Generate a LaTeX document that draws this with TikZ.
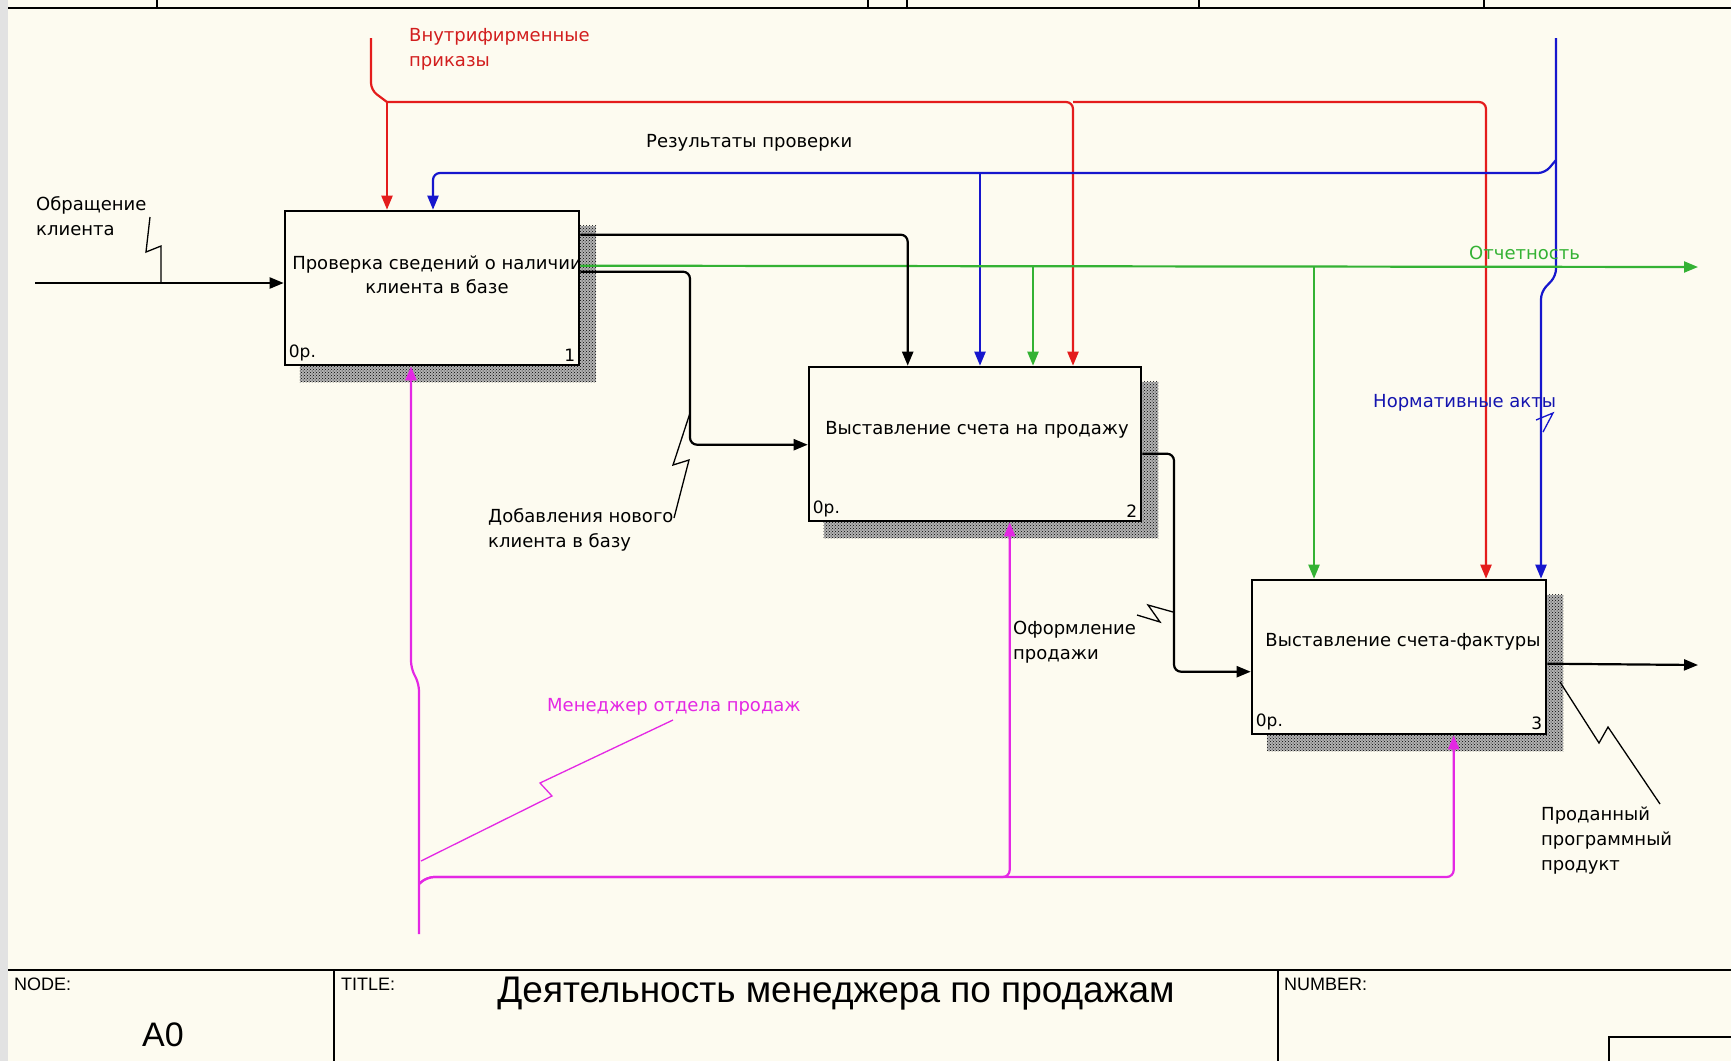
\documentclass[tikz,border=0pt]{standalone}
\usepackage{fontspec}
\newfontfamily\diagfont{DejaVu Sans}
\newfontfamily\framefont{Liberation Sans}
\usepackage{tikz}
\usetikzlibrary{arrows.meta, positioning, calc, patterns, backgrounds}
\usepackage{xcolor}
\definecolor{paper}{RGB}{253,251,240}
\definecolor{sidebar}{RGB}{226,226,226}
\definecolor{idefred}{RGB}{228,28,28}
\definecolor{idefblue}{RGB}{22,22,205}
\definecolor{idefgreen}{RGB}{52,178,52}
\definecolor{idefmag}{RGB}{228,40,228}
\definecolor{labred}{RGB}{210,30,30}
\definecolor{labblue}{RGB}{20,20,175}

\begin{document}
\begin{tikzpicture}[x=1pt, y=-1pt,
    process/.style = {rectangle, draw=black, fill=paper, line width=2.6pt, inner sep=0pt, minimum height=154pt},
    ptext/.style = {font=\diagfont\fontsize{18}{24}\selectfont, align=center, inner sep=0pt},
    lbl/.style = {font=\diagfont\fontsize{18}{25}\selectfont, align=left, inner sep=0pt, anchor=west},
    corner/.style = {font=\diagfont\fontsize{17}{20}\selectfont, inner sep=5pt},
    framehd/.style = {font=\framefont\fontsize{18}{20}\selectfont, inner sep=0pt, anchor=base west},
    arrow/.style = {line width=2.2pt, rounded corners=7pt, -{Triangle[length=14pt,width=11pt]}},
    wire/.style = {line width=2.2pt, rounded corners=7pt},
    squig/.style = {line width=1.3pt},
    hatch/.style = {pattern=crosshatch dots, pattern color=black}
]
\useasboundingbox (0,0) rectangle (1731,1061);

% Activity boxes A1..A3 (staircase)
\node (b1) [process, minimum width=294pt] at (432,288) {};
\node (b2) [process, minimum width=332pt] at (975,444) {};
\node (b3) [process, minimum width=294pt] at (1399,657) {};

\node (t1) [ptext] at ($(b1.center)+(5,-13)$) {Проверка сведений о наличии\\клиента в базе};
\node (t2) [ptext] at ($(b2.center)+(2,-14)$) {Выставление счета на продажу};
\node (t3) [ptext] at ($(b3.center)+(4,-15)$) {Выставление счета-фактуры};

\node (o1) [corner, anchor=south west] at (b1.south west) {0р.};
\node (o2) [corner, anchor=south west] at (b2.south west) {0р.};
\node (o3) [corner, anchor=south west] at (b3.south west) {0р.};
\node (n1) [corner, anchor=south east] at (b1.south east) {1};
\node (n2) [corner, anchor=south east] at (b2.south east) {2};
\node (n3) [corner, anchor=south east] at (b3.south east) {3};

% Paper, side strip and hatched box shadows
\begin{scope}[on background layer]
\fill[paper] (0,0) rectangle (1731,1061);
\fill[sidebar] (0,0) rectangle (8,1061);
\foreach \b in {b1,b2,b3} {
  \fill[black!30] ($(\b.south west)+(16,16)$) rectangle ($(\b.north east)+(16,16)$);
  \fill[hatch] ($(\b.south west)+(16,16)$) rectangle ($(\b.north east)+(16,16)$);
}
\end{scope}

% Input: Обращение клиента
\coordinate (inA) at (35,283);
\draw[arrow] (inA) -- (inA -| b1.west);

% Control: Внутрифирменные приказы
\coordinate (rtop) at (371,38);
\coordinate (rsplit) at (387,102);
\coordinate (rlane2) at (1073,102);
\coordinate (rlane3) at (1486,102);
\draw[wire, idefred] (rtop) -- (371,90) -- (rsplit);
\draw[arrow, idefred] (rsplit) -- (rsplit |- b1.north);
\draw[arrow, idefred] (rsplit) -- (rlane2) -- (rlane2 |- b2.north);
\draw[arrow, idefred] (rlane2) -- (rlane3) -- (rlane3 |- b3.north);

% Control: Нормативные акты / Результаты проверки
\coordinate (btop) at (1556,38);
\coordinate (bsplit) at (1556,160);
\coordinate (bjoin) at (1545,173);
\coordinate (blane1) at (433,173);
\coordinate (blane2) at (980,173);
\coordinate (blane3) at (1541,292);
\draw[arrow, idefblue] (btop) -- (1556,276) -- (blane3) -- (blane3 |- b3.north);
\draw[arrow, idefblue] (bsplit) -- (bjoin) -- (blane1) -- (blane1 |- b1.north);
\draw[arrow, idefblue] (blane2) -- (blane2 |- b2.north);

% Output: Отчетность
\coordinate (gend) at (1698,267);
\coordinate (glane2) at (1033,267);
\coordinate (glane3) at (1314,267);
\draw[arrow, idefgreen] ($(b1.north east)+(0,56)$) -- (gend);
\draw[arrow, idefgreen] (glane2) -- (glane2 |- b2.north);
\draw[arrow, idefgreen] (glane3) -- (glane3 |- b3.north);

% Box 1 -> Box 2 (control and input)
\coordinate (kdrop) at (690,360);
\draw[arrow] ($(b1.north east)+(0,25)$) -| ($(b2.north west)+(100,0)$);
\draw[arrow] ($(b1.north east)+(0,62)$) -| (kdrop) |- ($(b2.north west)+(0,79)$);

% Box 2 -> Box 3, final output
\coordinate (kdrop2) at (1174,560);
\coordinate (pout) at (1698,665);
\draw[arrow] ($(b2.north east)+(0,88)$) -| (kdrop2) |- ($(b3.north west)+(0,93)$);
\draw[arrow] ($(b3.north east)+(0,85)$) -- (pout);

% Mechanism: Менеджер отдела продаж
\coordinate (mbot) at (419,934);
\coordinate (msplit) at (419,884);
\coordinate (mjog) at (411,668);
\draw[arrow, idefmag] (mbot) -- (419,684) -- (mjog) -- (mjog |- b1.south);
\draw[arrow, idefmag] (msplit) -- (427,877) -| ($(b2.south west)+(202,0)$);
\draw[arrow, idefmag] (msplit) -- (427,877) -| ($(b3.south west)+(203,0)$);

% Arrow labels
\node (lobr) [lbl] at (36,216) {Обращение\\клиента};
\node (lvnut) [lbl, text=labred] at (409,49) {Внутрифирменные\\приказы};
\node (lres) [lbl] at (646,143) {Результаты проверки};
\node (lotch) [lbl, text=idefgreen] at (1469,253) {Отчетность};
\node (lnorm) [lbl, text=labblue] at (1373,403) {Нормативные акты};
\node (ldob) [lbl] at (488,530) {Добавления нового\\клиента в базу};
\node (loform) [lbl] at (1013,642) {Оформление\\продажи};
\node (lprod) [lbl] at (1541,841) {Проданный\\программный\\продукт};
\node (lmen) [lbl, text=idefmag] at (547,707) {Менеджер отдела продаж};

% Label squiggles
\draw[squig] (150,217) -- (146,252) -- (161,246) -- (161,283);
\draw[squig] (674,518) -- (689,460) -- (673,465) -- (690,413);
\draw[squig] (1137,615) -- (1160,622) -- (1148,605) -- (1173,612);
\draw[squig, idefblue] (1536,420) -- (1553,413) -- (1543,432);
\draw[squig] (1560,682) -- (1599,743) -- (1608,727) -- (1660,804);
\draw[squig, idefmag] (421,861) -- (552,796) -- (540,783) -- (673,720);

% Sheet frame and title block
\draw[line width=2pt] (8,8) -- (1731,8);
\foreach \tx in {157,868,907,1199,1484}
  \draw[line width=1.5pt] (\tx,0) -- (\tx,8);
\draw[line width=2.5pt] (8,970) -- (1731,970);
\draw[line width=1.5pt] (334,970) -- (334,1061);
\draw[line width=1.5pt] (1278,970) -- (1278,1061);
\draw[line width=1.5pt] (1609,1061) |- (1731,1037);

\node (nodehd) [framehd] at (14,990) {NODE:};
\node (titlehd) [framehd] at (341,990) {TITLE:};
\node (numhd) [framehd] at (1284,990) {NUMBER:};
\node (nodeid) [font=\framefont\fontsize{34}{34}\selectfont, inner sep=0pt, anchor=base] at (163,1046) {A0};
\node (title) [font=\framefont\fontsize{37}{37}\selectfont, inner sep=0pt, anchor=base] at (836,1002) {Деятельность менеджера по продажам};

\end{tikzpicture}
\end{document}
